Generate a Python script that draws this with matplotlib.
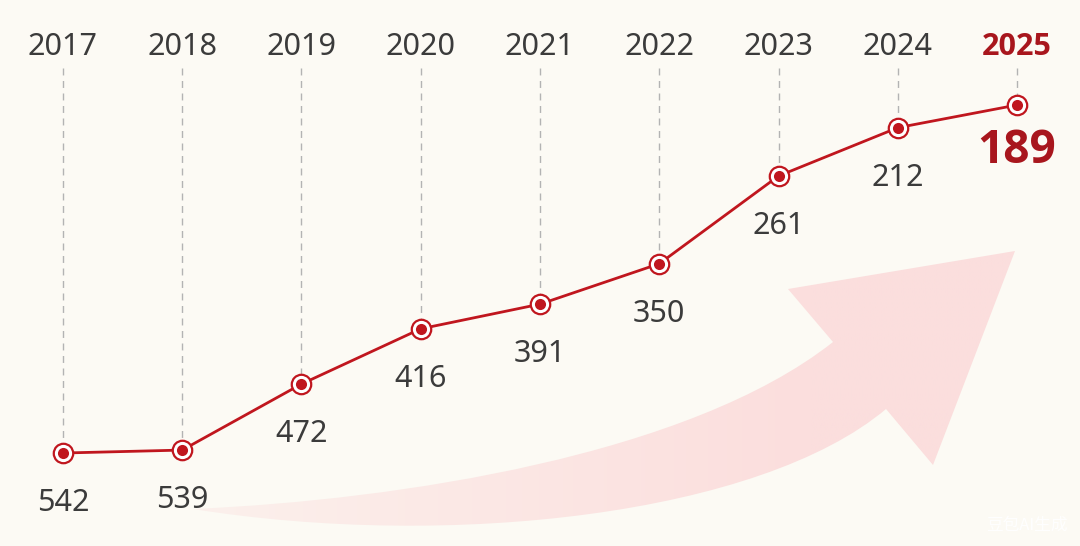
import numpy as np
import matplotlib
matplotlib.use("Agg")
import matplotlib.pyplot as plt
from matplotlib.path import Path
from matplotlib.patches import PathPatch
from matplotlib import transforms

plt.rcParams['font.family'] = ['Noto Sans', 'Noto Sans CJK SC', 'DejaVu Sans']

years = ["2017", "2018", "2019", "2020", "2021", "2022", "2023", "2024", "2025"]
values = [542, 539, 472, 416, 391, 350, 261, 212, 189]

RED = "#c0161e"
DARK_RED = "#a8161d"
TEXT = "#3b3b3b"
BG = "#fcfaf4"
BOLD_FONT = ['Open Sans', 'Liberation Sans', 'DejaVu Sans']

fig = plt.figure(figsize=(10.8, 5.46), dpi=100)
fig.patch.set_facecolor(BG)

# background decoration: the big faded arrow (pixel space)
bg = fig.add_axes([0, 0, 1, 1], zorder=0)
bg.set_xlim(0, 1080)
bg.set_ylim(546, 0)
bg.axis("off")

verts = [
    (193, 509),
    (400, 500), (690, 455), (833, 342),
    (788, 289),
    (1015, 251),
    (933, 465),
    (886, 409),
    (760, 515), (450, 550), (193, 509),
    (193, 509),
]
codes = [Path.MOVETO,
         Path.CURVE4, Path.CURVE4, Path.CURVE4,
         Path.LINETO, Path.LINETO, Path.LINETO, Path.LINETO,
         Path.CURVE4, Path.CURVE4, Path.CURVE4,
         Path.CLOSEPOLY]
arrow = PathPatch(Path(verts, codes), facecolor="none", edgecolor="none")
bg.add_patch(arrow)

bg_rgb = np.array(matplotlib.colors.to_rgb(BG))
pink = np.array(matplotlib.colors.to_rgb("#fbdedd"))
t = np.linspace(0, 1, 400)
w = 0.35 + 0.65 * np.clip((t - 0.05) / 0.7, 0, 1)
grad = bg_rgb[None, :] * (1 - w[:, None]) + pink[None, :] * w[:, None]
img = bg.imshow(grad[None, :, :], extent=[150, 1030, 550, 240], aspect="auto", zorder=1)
img.set_clip_path(arrow)

bg.text(1068, 525, "豆包AI生成", color="white", fontsize=12, ha="right", va="center",
        family=['Noto Sans CJK SC', 'DejaVu Sans'], alpha=0.95)

# main chart
ax = fig.add_axes([0, 0, 1, 1], zorder=1)
ax.patch.set_alpha(0)
x = np.arange(len(years))
ax.set_xlim(-0.528, 8.528)
ax.set_ylim(636.3, 82.5)
ax.axis("off")

trans = transforms.blended_transform_factory(ax.transData, ax.transAxes)
ylo, yhi = ax.get_ylim()
dash_top = yhi + (68 / 546) * (ylo - yhi)

for i, (yr, v) in enumerate(zip(years, values)):
    ax.plot([i, i], [dash_top, v], color="#b3b3b3", lw=1, dashes=(5, 4), zorder=1)
    last = i == len(years) - 1
    if last:
        ax.text(i, 1 - 47 / 546, yr, transform=trans, ha="center", va="center",
                fontsize=22, color=DARK_RED, fontweight="bold", family=BOLD_FONT)
        ax.annotate(str(v), (i, v), xytext=(0, -33), textcoords="offset points",
                    ha="center", va="center", fontsize=33, fontweight="bold",
                    color=DARK_RED, family=BOLD_FONT)
    else:
        ax.text(i, 1 - 47 / 546, yr, transform=trans, ha="center", va="center",
                fontsize=22, color=TEXT)
        ax.annotate(str(v), (i, v), xytext=(0, -36), textcoords="offset points",
                    ha="center", va="center", fontsize=22, color=TEXT)

ax.plot(x, values, color=RED, lw=2, zorder=2, solid_capstyle="round")
ax.plot(x, values, "o", ms=14, mfc="white", mec=RED, mew=1.6, zorder=3)
ax.plot(x, values, "o", ms=8, mfc=RED, mec=RED, mew=0, zorder=4)

fig.savefig("out.png", dpi=100, facecolor=BG)
